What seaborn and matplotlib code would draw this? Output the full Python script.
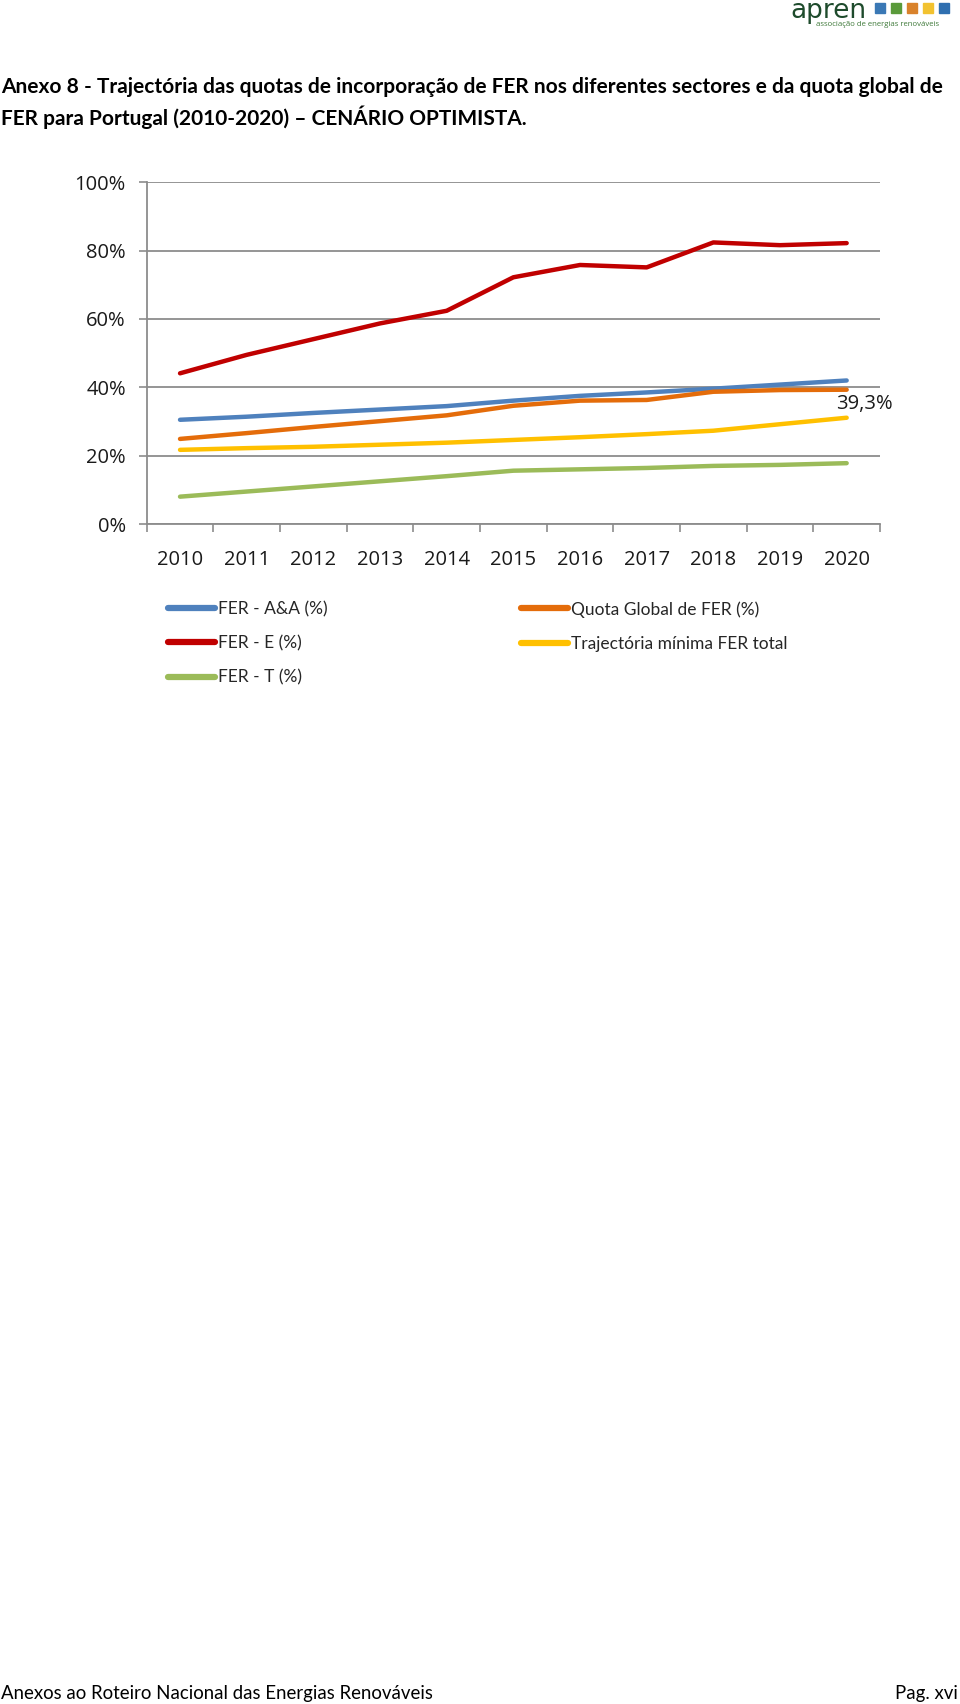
import matplotlib
matplotlib.use("Agg")
import matplotlib.pyplot as plt
from matplotlib.patches import Rectangle
from matplotlib.ticker import PercentFormatter
import pandas as pd
import seaborn as sns

# dados (quotas em %)
anos = ["2010", "2011", "2012", "2013", "2014", "2015", "2016", "2017", "2018", "2019", "2020"]
fer_aa = [30.5, 31.4, 32.5, 33.5, 34.5, 36.1, 37.5, 38.5, 39.6, 40.8, 42.0]
fer_e = [44.1, 49.5, 54.1, 58.7, 62.4, 72.2, 75.8, 75.1, 82.4, 81.6, 82.2]
fer_t = [8.0, 9.5, 11.0, 12.5, 14.0, 15.6, 16.0, 16.4, 17.0, 17.3, 17.8]
quota_global = [24.9, 26.6, 28.4, 30.1, 31.8, 34.6, 36.1, 36.3, 38.7, 39.2, 39.3]
trajectoria = [21.7, 22.2, 22.6, 23.2, 23.8, 24.6, 25.4, 26.3, 27.3, 29.2, 31.1]

series = {
    "FER - A&A (%)": fer_aa,
    "FER - E (%)": fer_e,
    "FER - T (%)": fer_t,
    "Quota Global de FER (%)": quota_global,
    "Trajectória mínima FER total": trajectoria,
}
cores = {
    "FER - A&A (%)": "#4f81bd",
    "FER - E (%)": "#c00000",
    "FER - T (%)": "#9bbb59",
    "Quota Global de FER (%)": "#e46c0a",
    "Trajectória mínima FER total": "#ffc000",
}

linhas = []
for nome, vals in series.items():
    for i, v in enumerate(vals):
        linhas.append({"pos": i, "ano": anos[i], "serie": nome, "valor": v})
df = pd.DataFrame(linhas)

sns.set_theme(style="white")
plt.rcParams["font.family"] = ["Open Sans", "DejaVu Sans"]
estreita = ["Lato", "DejaVu Sans"]

fig = plt.figure(figsize=(9.6, 17.04), dpi=100)
ax = fig.add_axes([146.7 / 960, 1 - 524 / 1704, (880 - 146.7) / 960, (524 - 182.3) / 1704])

sns.lineplot(data=df, x="pos", y="valor", hue="serie", palette=cores,
             hue_order=list(series.keys()), lw=3.2, ax=ax, legend=True)
handles, labels = ax.get_legend_handles_labels()
ax.get_legend().remove()

ax.set_xlim(-0.5, len(anos) - 0.5)
ax.set_ylim(0, 100)
ax.set_yticks([0, 20, 40, 60, 80, 100])
ax.yaxis.set_major_formatter(PercentFormatter(decimals=0))
ax.set_xticks(range(len(anos)))
ax.set_xticklabels(anos)
ax.set_xticks([i - 0.5 for i in range(len(anos) + 1)], minor=True)
ax.grid(axis="y", color="#8c8c8c", lw=1.3)
ax.set_axisbelow(True)
ax.set_xlabel("")
ax.set_ylabel("")
for s in ["top", "right"]:
    ax.spines[s].set_visible(False)
for s in ["left", "bottom"]:
    ax.spines[s].set_color("#8c8c8c")
    ax.spines[s].set_linewidth(1.3)
ax.tick_params(axis="x", which="major", length=0, pad=19, labelsize=14.5, labelcolor="#1a1a1a")
ax.tick_params(axis="x", which="minor", bottom=True, length=6, width=1.2, color="#8c8c8c")
ax.tick_params(axis="y", left=True, length=6, width=1.2, color="#8c8c8c", pad=9,
               labelsize=14.5, labelcolor="#1a1a1a")

# etiqueta do valor final da quota global
ax.annotate("39,3%", xy=(10, quota_global[-1]), xytext=(13, -10), textcoords="offset points",
            ha="center", va="center", fontsize=14.5, color="#1a1a1a")

# legendas em duas colunas
leg_kw = dict(frameon=False, handlelength=2.7, handletextpad=0.2,
              labelspacing=1.05, borderpad=0, borderaxespad=0, loc="upper left",
              prop={"family": estreita, "size": 12.5})
leg1 = fig.legend(handles[:3], labels[:3], bbox_to_anchor=(168 / 960, 1 - 601 / 1704), **leg_kw)
leg2 = fig.legend(handles[3:], labels[3:], bbox_to_anchor=(521 / 960, 1 - 601 / 1704), **leg_kw)
for leg in (leg1, leg2):
    for h in leg.legend_handles:
        h.set_linewidth(4.5)

# título
t1 = fig.text(1 / 960, 1 - 87 / 1704,
              "Anexo 8 - Trajectória das quotas de incorporação de FER nos diferentes sectores e da quota global de",
              family=estreita, weight="bold", fontsize=14, va="center", ha="left", color="black")
t2 = fig.text(1 / 960, 1 - 117 / 1704,
              "FER para Portugal (2010-2020) \u2013 CENÁRIO OPTIMISTA.",
              family=estreita, weight="bold", fontsize=14, va="center", ha="left", color="black")

# logótipo apren
fig.text(790 / 960, 1 - 18 / 1704, "apren", fontsize=19, color="#1e4b2c", va="baseline", ha="left",
         family=["DejaVu Sans"])
fig.text(816 / 960, 1 - 24 / 1704, "associação de energias renováveis", fontsize=5.6,
         color="#3f7a3a", va="center", ha="left")
for i, c in enumerate(["#3a78b5", "#5a9a3a", "#d9822b", "#f2c230", "#2f6fb0"]):
    fig.patches.append(Rectangle(((875 + i * 16) / 960, 1 - 13 / 1704), 10 / 960, 10 / 1704,
                                 transform=fig.transFigure, color=c))

# rodapé
r1 = fig.text(1 / 960, 1 - 1693 / 1704, "Anexos ao Roteiro Nacional das Energias Renováveis",
              family=estreita, fontsize=13.5, va="center", ha="left", color="black")
r2 = fig.text(958 / 960, 1 - 1693 / 1704, "Pag. xvi", family=estreita, fontsize=13.5,
              va="center", ha="right", color="black")

# ajustar o tamanho dos textos à largura da referência
renderer = fig.canvas.get_renderer()
larg = t1.get_window_extent(renderer).width
t1.set_fontsize(t1.get_fontsize() * 944 / larg)
t2.set_fontsize(t1.get_fontsize())
larg = r1.get_window_extent(renderer).width
r1.set_fontsize(r1.get_fontsize() * 432 / larg)
r2.set_fontsize(r1.get_fontsize())

fig.savefig("out.png", dpi=100)
